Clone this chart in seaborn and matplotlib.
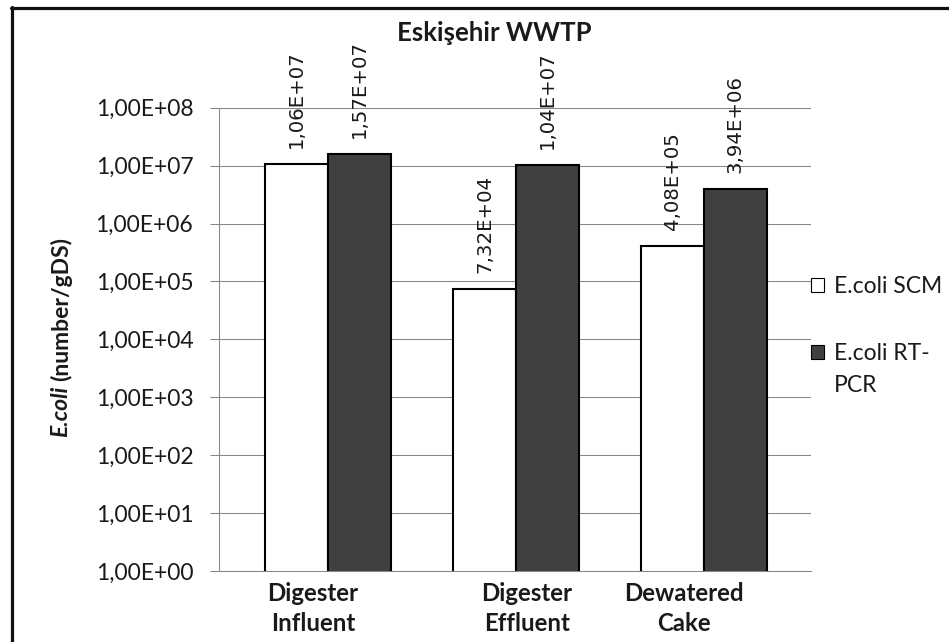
import numpy as np
import pandas as pd
import matplotlib
matplotlib.use("Agg")
import matplotlib.pyplot as plt
import seaborn as sns
from matplotlib.patches import Patch
from matplotlib.lines import Line2D
from matplotlib.ticker import FixedLocator, FixedFormatter, NullLocator

# ---------------- data ----------------
categories = ["Digester\nInfluent", "Digester\nEffluent", "Dewatered\nCake"]
series_names = ["E.coli SCM", "E.coli RT-PCR"]
legend_labels = ["E.coli SCM", "E.coli RT-"]
legend_label_cont = "PCR"
scm_values = [1.06e7, 7.32e4, 4.08e5]
rtpcr_values = [1.57e7, 1.04e7, 3.94e6]
ytick_values = [1e0, 1e1, 1e2, 1e3, 1e4, 1e5, 1e6, 1e7, 1e8]
ytick_labels = ["1,00E+00", "1,00E+01", "1,00E+02", "1,00E+03", "1,00E+04",
                "1,00E+05", "1,00E+06", "1,00E+07", "1,00E+08"]
title = "Eskişehir WWTP"

df = pd.DataFrame({
    "category": categories * 2,
    "series": [series_names[0]] * 3 + [series_names[1]] * 3,
    "value": scm_values + rtpcr_values,
})

# ---------------- style ----------------
sns.set_style("white")
plt.rcParams["font.family"] = ["Lato", "DejaVu Sans"]
FS = 16.5
GRID = "#868686"
TXT = "#1a1a1a"
colors = ["#ffffff", "#404040"]

W, H = 949, 642
fig = plt.figure(figsize=(W / 100, H / 100), dpi=100)
ax_left, ax_right, ax_top, ax_bot = 219, 811, 107.7, 571
ax = fig.add_axes([ax_left / W, 1 - ax_bot / H, (ax_right - ax_left) / W, (ax_bot - ax_top) / H])

sns.barplot(data=df, x="category", y="value", hue="series", order=categories,
            hue_order=series_names, palette=colors, edgecolor="black",
            linewidth=1.5, width=0.672, gap=0, errorbar=None, legend=False,
            ax=ax, zorder=3)

ax.set_yscale("log")
ax.set_ylim(1, 1e8)
ax.set_xlim(-0.581, 2.571)

# y axis
ax.yaxis.set_major_locator(FixedLocator(ytick_values))
ax.yaxis.set_major_formatter(FixedFormatter(ytick_labels))
ax.yaxis.set_minor_locator(NullLocator())
ax.tick_params(axis="y", which="major", direction="out", length=6.5, width=0.75,
               color=GRID, labelsize=FS, labelcolor=TXT, pad=12, left=True)
ax.yaxis.grid(True, color=GRID, linewidth=0.75, zorder=0)
ax.xaxis.grid(False)
ax.set_axisbelow(True)

# x axis labels, offset as in the reference
label_offsets = [-0.08, 0.059, -0.107]
ax.set_xticks([i + o for i, o in enumerate(label_offsets)])
ax.set_xticklabels(categories, fontweight="bold", fontsize=17.3, linespacing=1.38,
                   color=TXT)
ax.tick_params(axis="x", length=0, pad=8)
ax.set_xlabel("")
ax.set_ylabel("")

for s in ["top", "right"]:
    ax.spines[s].set_visible(False)
for s in ["left", "bottom"]:
    ax.spines[s].set_color(GRID)
    ax.spines[s].set_linewidth(0.75)

# data labels
for cont, vals in zip(ax.containers, [scm_values, rtpcr_values]):
    labs = [f"{v:.2E}".replace(".", ",") for v in vals]
    ax.bar_label(cont, labels=labs, rotation=90, padding=11.5, fontsize=14.2,
                 family="DejaVu Sans", color=TXT, clip_on=False)

# title
fig.text(494 / W, 1 - 33 / H, title, ha="center", va="center", fontsize=18.5,
         fontweight="bold", color=TXT)

# y label (mixed styles)
t1 = fig.text(61 / W, 1 - 437 / H, "E.coli", rotation=90, ha="center", va="bottom",
              fontsize=FS, fontweight="bold", fontstyle="italic", color=TXT)
fig.canvas.draw()
bb = t1.get_window_extent()
fig.text(61 / W, (bb.y1 + 5) / H, "(number/gDS)", rotation=90, ha="center",
         va="bottom", fontsize=FS, fontweight="bold", color=TXT)

# legend
handles = [Patch(facecolor=c, edgecolor="black", linewidth=0.8) for c in colors]
leg = fig.legend(handles, legend_labels, loc="center left",
                 bbox_to_anchor=(811 / W, 1 - 320 / H), frameon=False,
                 fontsize=FS, handlelength=0.57, handleheight=0.57,
                 handletextpad=0.45, labelspacing=2.0, borderpad=0, borderaxespad=0)
for t in leg.get_texts():
    t.set_color(TXT)
fig.canvas.draw()
lb = leg.get_texts()[1].get_window_extent()
fig.text(lb.x0 / W, (lb.y0 - 32) / H, legend_label_cont, ha="left", va="bottom",
         fontsize=FS, color=TXT)

# outer frame (top and left edges visible)
fig.add_artist(Line2D([11.5 / W, 11.5 / W], [0, 1 - 6.5 / H], transform=fig.transFigure,
                      color="#111111", linewidth=2.3))
fig.add_artist(Line2D([10.5 / W, 1], [1 - 7.8 / H, 1 - 7.8 / H], transform=fig.transFigure,
                      color="#111111", linewidth=2.3))

fig.savefig("out.png", dpi=100)
